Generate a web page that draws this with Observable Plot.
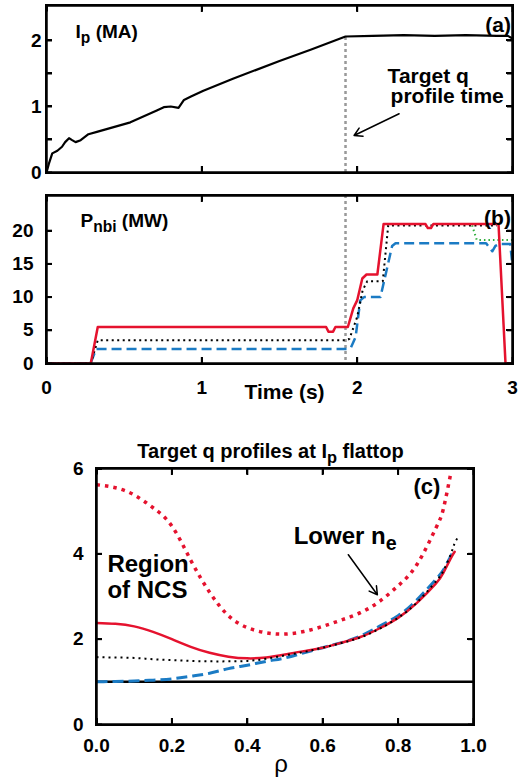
<!DOCTYPE html>
<html><head><meta charset="utf-8">
<script src="https://cdn.jsdelivr.net/npm/d3@7"></script>
<script src="https://cdn.jsdelivr.net/npm/@observablehq/plot@0.6"></script>
<style>
body{margin:0;background:#fff;}
#wrap{width:522px;position:relative;}
#wrap svg{display:block;}
.fr{position:absolute;box-sizing:border-box;border:2.5px solid #000;pointer-events:none;}
.tk{position:absolute;background:#000;pointer-events:none;}
</style></head><body>
<div id="wrap"></div>
<script>
// ---------- data ----------
const ipTime = [0, 0.015, 0.037, 0.07, 0.1, 0.12, 0.145, 0.165, 0.187, 0.22, 0.27, 0.33, 0.54, 0.71, 0.755, 0.8, 0.85, 0.885, 0.93, 1.01, 1.2, 1.5, 1.7, 1.925, 2.1, 2.3, 2.5, 2.7, 2.9, 2.97, 3.0];
const ipCurrent = [0, 0.13, 0.29, 0.33, 0.39, 0.46, 0.52, 0.49, 0.46, 0.49, 0.58, 0.62, 0.76, 0.94, 0.99, 1.0, 0.98, 1.1, 1.15, 1.24, 1.42, 1.69, 1.86, 2.06, 2.07, 2.08, 2.07, 2.08, 2.07, 2.07, 2.03];

const redTime = [0, 0.285, 0.33, 1.8, 1.815, 1.845, 1.86, 1.94, 1.975, 2.0, 2.033, 2.06, 2.13, 2.17, 2.44, 2.455, 2.475, 2.49, 2.91, 2.955, 3.0];
const redPower = [0, 0, 5.5, 5.5, 4.8, 4.8, 5.5, 5.5, 8.3, 9.5, 12.8, 13.4, 13.4, 21, 21, 20.4, 20.4, 21, 21, 0, 0];
const blackTime = [0, 0.285, 0.33, 1.93, 1.95, 2.0, 2.035, 2.065, 2.165, 2.2, 2.9];
const blackPower = [0, 0, 3.5, 3.5, 3.7, 7, 11, 12.4, 12.4, 20.8, 20.8];
const greenTime = [2.74, 2.77, 3.0];
const greenPower = [20.8, 18.6, 18.6];
const blueTime = [0, 0.283, 0.32, 1.945, 1.96, 1.99, 2.02, 2.045, 2.15, 2.225, 2.247, 2.83, 2.87, 2.89, 2.915, 2.985, 3.0];
const bluePower = [0, 0, 2.2, 2.2, 2.4, 4, 9.5, 10, 10, 17.7, 18.1, 18.1, 16.9, 17.7, 18, 18, 14.8];

const targetTime = [1.925];

const rho = [0, 0.05, 0.1, 0.15, 0.2, 0.25, 0.3, 0.35, 0.4, 0.45, 0.5, 0.55, 0.6, 0.65, 0.7, 0.75, 0.8, 0.85, 0.9, 0.92, 0.94, 0.95, 0.96];
const qLowerNe = [5.62, 5.55, 5.38, 5.08, 4.65, 3.85, 3.1, 2.55, 2.27, 2.15, 2.12, 2.18, 2.3, 2.45, 2.62, 2.88, 3.25, 3.75, 4.6, 5.05, 5.9, null, null];
const qRedSolid = [2.38, 2.36, 2.3, 2.17, 2.0, 1.82, 1.68, 1.59, 1.55, 1.57, 1.64, 1.72, 1.8, 1.92, 2.05, 2.25, 2.5, 2.85, 3.3, 3.55, 3.9, 4.05, null];
const qBlackDot = [1.58, 1.57, 1.56, 1.53, 1.51, 1.49, 1.48, 1.48, 1.49, 1.54, 1.62, 1.7, 1.8, 1.91, 2.04, 2.24, 2.5, 2.86, 3.35, 3.6, 4.0, 4.25, 4.4];
const qBlueDash = [1.0, 1.01, 1.02, 1.04, 1.07, 1.13, 1.2, 1.31, 1.39, 1.48, 1.56, 1.68, 1.8, 1.92, 2.07, 2.3, 2.55, 2.92, 3.4, 3.62, 3.95, 4.1, null];
const qUnity = [1];

const yTicksA = [0, 0.5, 1, 1.5, 2];
const yTicksB = [0, 5, 10, 15, 20];
const yTicksC = [0, 2, 4, 6];
const xTicksA = [0, 1, 2, 3];
const xTicksT = [0, 1, 2, 3];
const xTicksRho = [0, 0.2, 0.4, 0.6, 0.8, 1.0];

const labelsA = [{x: 0.187, y: 2.13, t: "Ip (MA)"}];
const notesA = [{x: 2.196, y: 1.455, t: "Target q"}, {x: 2.215, y: 1.15, t: "profile time"}];
const tagA = [{x: 2.99, y: 2.23, t: "(a)"}];
const arrowA = [{x1: 2.27, y1: 0.89, x2: 1.98, y2: 0.56}];
const labelsB = [{x: 0.219, y: 21.5, t: "Pnbi (MW)"}];
const tagB = [{x: 2.99, y: 21.9, t: "(b)"}];
const labelsC = [{x: 0.523, y: 4.42, t: "Lower ne"}, {x: 0.029, y: 3.76, t: "Region"}, {x: 0.029, y: 3.15, t: "of NCS"}];
const tagC = [{x: 0.912, y: 5.56, t: "(c)"}];
const arrowC = [{x1: 0.668, y1: 3.98, x2: 0.745, y2: 3.04}];

(function () {
  const FONT = "'Liberation Sans', Arial, sans-serif";
  const RED = "#e5122e", BLUE = "#1b7bc4", GREEN = "#2fae3c", GRAY = "#999999";
  const baseStyle = {fontFamily: FONT, fontWeight: "bold", fontSize: "19px"};
  const pairUp = (xs, ys) => xs.map((x, i) => ({x, y: ys[i]}));

  const subs = {
    "Ip (MA)": [["I", 0], ["p", 1], [" (MA)", 0]],
    "Pnbi (MW)": [["P", 0], ["nbi", 1], [" (MW)", 0]],
    "Lower ne": [["Lower n", 0], ["e", 1]],
    "Target q profiles at Ip flattop": [["Target q profiles at I", 0], ["p", 1], [" flattop", 0]]
  };
  const subSizes = {"Ip (MA)": 19, "Pnbi (MW)": 19, "Lower ne": 24, "Target q profiles at Ip flattop": 20};
  function addSubscripts(svg) {
    svg.querySelectorAll("text").forEach((node) => {
      const t = node.textContent;
      if (!subs[t] || node.querySelector("tspan")) return;
      const fs = subSizes[t];
      while (node.firstChild) node.removeChild(node.firstChild);
      let shifted = 0;
      subs[t].forEach(([s, isSub]) => {
        const ts = document.createElementNS("http://www.w3.org/2000/svg", "tspan");
        ts.textContent = s;
        if (isSub) { ts.setAttribute("font-size", (fs * 0.82) + "px"); ts.setAttribute("dy", (fs * 0.28) + "px"); shifted = fs * 0.28; }
        else if (shifted) { ts.setAttribute("dy", (-shifted) + "px"); shifted = 0; }
        node.appendChild(ts);
      });
    });
  }

  function axesMarks(xTicks, yTicks, yfmt, xfmt, ypad, xpad) {
    return [
      Plot.axisY(yTicks, {anchor: "left", tickSize: -6, tickPadding: ypad + 6, strokeWidth: 2, tickFormat: yfmt, label: null}),
      Plot.axisY(yTicks, {anchor: "right", tickSize: -6, strokeWidth: 2, tickFormat: () => "", label: null}),
      Plot.axisX(xTicks, {anchor: "bottom", tickSize: -6, tickPadding: xpad + 6, strokeWidth: 2, tickFormat: xfmt, label: null}),
      Plot.axisX(xTicks, {anchor: "top", tickSize: -6, strokeWidth: 2, tickFormat: () => "", label: null}),
      Plot.frame({stroke: "#000", strokeWidth: 2.5})
    ];
  }

  const wrap = document.getElementById("wrap");
  const butt = {strokeLinecap: "butt"};

  // overlay frame + inward ticks placed with the plot's own scales
  function overlay(plot, top, xTicks, yTicks) {
    const sx = plot.scale("x"), sy = plot.scale("y");
    const [x0, x1] = sx.range, [y0, y1] = sy.range; // y0 bottom, y1 top
    const add = (cls, l, t, w, h) => {
      const d = document.createElement("div"); d.className = cls;
      d.style.left = l + "px"; d.style.top = (top + t) + "px"; d.style.width = w + "px"; d.style.height = h + "px";
      wrap.append(d);
    };
    add("fr", x0 - 1, y1 - 1, x1 - x0 + 2.5, y0 - y1 + 2.5);
    yTicks.forEach((v) => { const py = sy.apply(v); add("tk", x0, py - 0.5, 6, 2); add("tk", x1 - 6, py - 0.5, 6, 2); });
    xTicks.forEach((v) => { const px = sx.apply(v); add("tk", px - 0.5, y0 - 6, 2, 6); add("tk", px - 0.5, y1, 2, 6); });
  }

  // ---------- panel (a) ----------
  const targetIp = ipCurrent[ipTime.indexOf(targetTime[0])];
  const pa = Plot.plot({
    width: 522, height: 190, marginLeft: 46, marginRight: 10, marginTop: 5, marginBottom: 18,
    style: baseStyle,
    x: {domain: [0, 3]}, y: {domain: [0, 2.53]},
    marks: [
      Plot.ruleX(targetTime, {y1: 0, y2: targetIp, stroke: GRAY, strokeWidth: 2.5, strokeDasharray: "3,3", ...butt}),
      Plot.line(pairUp(ipTime, ipCurrent), {x: "x", y: "y", stroke: "#000", strokeWidth: 2.2}),
      Plot.arrow(arrowA, {x1: "x1", y1: "y1", x2: "x2", y2: "y2", stroke: "#000", strokeWidth: 1.5, headLength: 9}),
      Plot.text(labelsA, {x: "x", y: "y", text: "t", textAnchor: "start", fontSize: 19, fontWeight: "bold"}),
      Plot.text(notesA, {x: "x", y: "y", text: "t", textAnchor: "start", fontSize: 21, fontWeight: "bold"}),
      Plot.text(tagA, {x: "x", y: "y", text: "t", textAnchor: "end", fontSize: 21, fontWeight: "bold"}),
      ...axesMarks(xTicksA, yTicksA, (d) => Number.isInteger(d) ? d : "", () => "", 5, 10)
    ]
  });
  addSubscripts(pa);
  wrap.append(pa);
  overlay(pa, 0, xTicksA, yTicksA);

  // ---------- panel (b) ----------
  const pb = Plot.plot({
    width: 522, height: 240, marginLeft: 46, marginRight: 10, marginTop: 5, marginBottom: 67,
    style: baseStyle,
    x: {domain: [0, 3]}, y: {domain: [0, 25.3]},
    marks: [
      Plot.ruleX(targetTime, {stroke: GRAY, strokeWidth: 2.5, strokeDasharray: "3,3", ...butt}),
      Plot.line(pairUp(greenTime, greenPower), {x: "x", y: "y", stroke: GREEN, strokeWidth: 2, strokeDasharray: "1.5,3", ...butt}),
      Plot.line(pairUp(blueTime, bluePower), {x: "x", y: "y", stroke: BLUE, strokeWidth: 2.5, strokeDasharray: "10,5", ...butt}),
      Plot.line(pairUp(blackTime, blackPower), {x: "x", y: "y", stroke: "#000", strokeWidth: 2, strokeDasharray: "2,3.5", ...butt}),
      Plot.line(pairUp(redTime, redPower), {x: "x", y: "y", stroke: RED, strokeWidth: 2.5}),
      Plot.text(labelsB, {x: "x", y: "y", text: "t", textAnchor: "start", fontSize: 19, fontWeight: "bold"}),
      Plot.text(tagB, {x: "x", y: "y", text: "t", textAnchor: "end", fontSize: 21, fontWeight: "bold"}),
      Plot.text(["Time (s)"], {frameAnchor: "bottom", dy: 35, dx: 5, fontSize: 21, fontWeight: "bold"}),
      ...axesMarks(xTicksT, yTicksB, (d) => d, (d) => d, 13, 17)
    ]
  });
  addSubscripts(pb);
  wrap.append(pb);
  overlay(pb, 190, xTicksT, yTicksB);

  // ---------- panel (c) ----------
  const pc = Plot.plot({
    width: 522, height: 353, marginLeft: 96, marginRight: 49, marginTop: 38, marginBottom: 59,
    style: baseStyle,
    x: {domain: [0, 1]}, y: {domain: [0, 6]},
    marks: [
      Plot.ruleY(qUnity, {stroke: "#000", strokeWidth: 2.5}),
      Plot.line(pairUp(rho, qLowerNe), {x: "x", y: "y", stroke: RED, strokeWidth: 3.5, strokeDasharray: "3.5,5", curve: "natural", ...butt}),
      Plot.line(pairUp(rho, qBlueDash), {x: "x", y: "y", stroke: BLUE, strokeWidth: 3, strokeDasharray: "11,5", curve: "natural", ...butt}),
      Plot.line(pairUp(rho, qRedSolid), {x: "x", y: "y", stroke: RED, strokeWidth: 2.5, curve: "natural"}),
      Plot.line(pairUp(rho, qBlackDot), {x: "x", y: "y", stroke: "#000", strokeWidth: 2, strokeDasharray: "2,4", curve: "natural", ...butt}),
      Plot.arrow(arrowC, {x1: "x1", y1: "y1", x2: "x2", y2: "y2", stroke: "#000", strokeWidth: 1.5, headLength: 9}),
      Plot.text(labelsC, {x: "x", y: "y", text: "t", textAnchor: "start", fontSize: 24, fontWeight: "bold"}),
      Plot.text(tagC, {x: "x", y: "y", text: "t", textAnchor: "end", fontSize: 22, fontWeight: "bold"}),
      Plot.text(["Target q profiles at Ip flattop"], {frameAnchor: "top", dy: -25, dx: -14.5, fontSize: 20, fontWeight: "bold"}),
      Plot.text(["ρ"], {frameAnchor: "bottom", dy: 47, dx: -4, fontSize: 24, fontWeight: "normal"}),
      ...axesMarks(xTicksRho, yTicksC, (d) => d, d3.format(".1f"), 13, 14)
    ]
  });
  addSubscripts(pc);
  wrap.append(pc);
  overlay(pc, 430, xTicksRho, yTicksC);
})();
</script>
</body></html>
